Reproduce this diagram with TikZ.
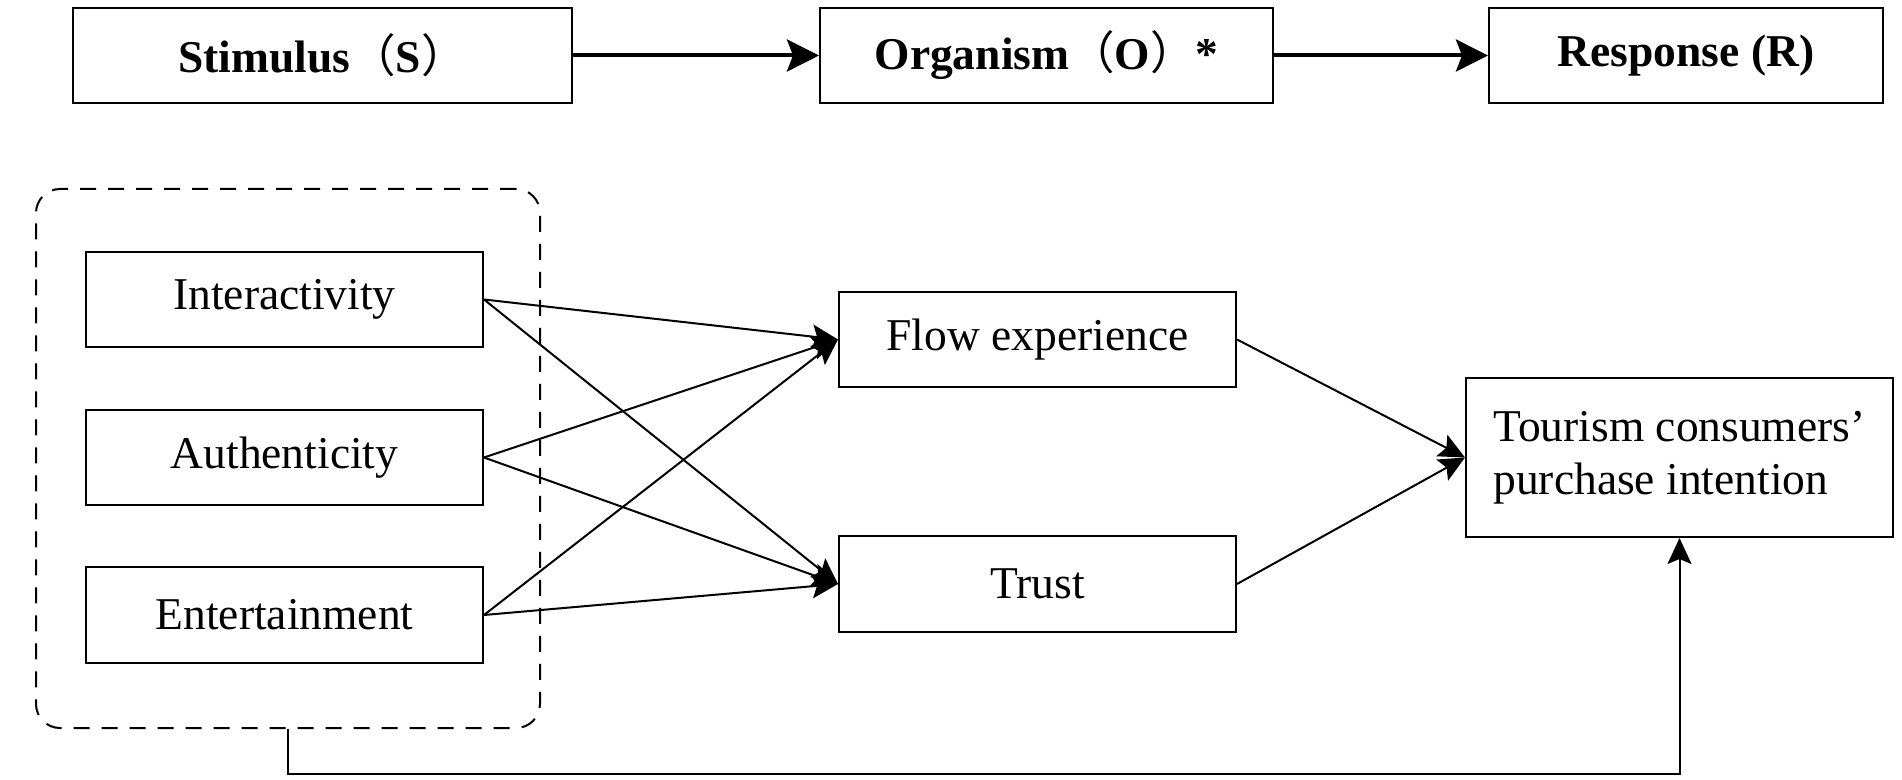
\documentclass[tikz,border=0pt]{standalone}
\usepackage{fontspec}
\setmainfont{Liberation Serif}
\newfontfamily\cjkfont{Noto Sans CJK SC}
\usetikzlibrary{arrows.meta}
\newcommand{\fwl}{{\cjkfont\mdseries （}}
\newcommand{\fwr}{{\cjkfont\mdseries ）}}
\begin{document}
\begin{tikzpicture}[x=0.5pt,y=-0.5pt,
  every node/.style={font=\fontsize{22.75}{26.5}\selectfont},
  topbox/.style={draw, line width=1pt, minimum height=47.5pt, inner sep=0pt,
    font=\fontsize{22.75}{26.5}\selectfont\bfseries},
  varbox/.style={draw, line width=1pt, minimum width=198.5pt, minimum height=47.5pt, inner sep=0pt},
  bigarrow/.style={line width=2pt, -{Stealth[length=16pt,width=16pt,inset=3pt]}},
  thinarrow/.style={line width=1pt, -{Stealth[length=13pt,width=12pt,inset=2.5pt]}},
  groupbox/.style={draw, dash pattern=on 8pt off 6pt, line width=1pt, rounded corners=12pt,
    minimum width=252pt, minimum height=269.5pt, inner sep=0pt}
]
\useasboundingbox (0,0) rectangle (1902,780);

% top row
\node[topbox, minimum width=249.5pt] (stim) at (322.5,55.5) {Stimulus\fwl S\fwr};
\node[topbox, minimum width=226.5pt] (org) at (1046.5,55.5) {Organism\fwl O\fwr *};
\node[topbox, minimum width=197pt] (resp) at (1686,55.5) {Response (R)};
\draw[bigarrow] (stim.east) -- (org.west);
\draw[bigarrow] (org.east) -- (resp.west);

% group
\node[groupbox] (group) at (288,458.5) {};
\node[varbox] (inter) at (284.5,299.5) {Interactivity};
\node[varbox] (auth) at (284.5,457.5) {Authenticity};
\node[varbox] (ent) at (284.5,615) {Entertainment};

% mediators
\node[varbox] (flow) at (1037.5,339.5) {Flow experience};
\node[varbox] (trust) at (1037.5,584) {Trust};

% outcome
\node[draw, line width=1pt, minimum width=213.5pt, minimum height=79.5pt, inner sep=0pt, align=left]
  (tour) at (1679.5,457.5) {Tourism consumers’\\purchase intention};

\foreach \s in {inter,auth,ent}{
  \draw[thinarrow] (\s.east) -- (flow.west);
  \draw[thinarrow] (\s.east) -- (trust.west);
}
\draw[thinarrow] (flow.east) -- (tour.west);
\draw[thinarrow] (trust.east) -- (tour.west);
\draw[thinarrow] (group.south) -- ++(0,45) -| (tour.south);
\end{tikzpicture}
\end{document}
